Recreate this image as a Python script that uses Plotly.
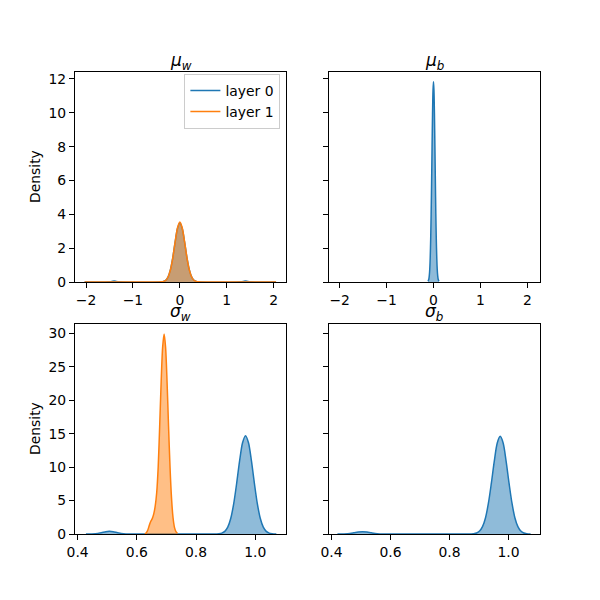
import plotly.graph_objects as go

# kde curves
mu_w_x0 = [-2.03, -1.6, -1.5, -1.45, -1.4, -1.35, -1.3, -1.2, -0.45, -0.4, -0.35, -0.3, -0.25, -0.2, -0.15, -0.1, -0.05,
           0.0, 0.05, 0.1, 0.15, 0.2, 0.25, 0.3, 0.35, 0.4, 0.45, 1.2, 1.3, 1.35, 1.4, 1.45, 1.5, 1.6, 2.05]
mu_w_y0 = [0.0, 0.0, 0.01, 0.03, 0.06, 0.03, 0.01, 0.0, 0.0, 0.01, 0.03, 0.1, 0.3, 0.73, 1.44, 2.36, 3.16,
           3.49, 3.16, 2.36, 1.44, 0.73, 0.3, 0.1, 0.03, 0.01, 0.0, 0.0, 0.01, 0.03, 0.06, 0.03, 0.01, 0.0, 0.0]
mu_w_x1 = [-2.03, -0.45, -0.4, -0.35, -0.3, -0.25, -0.2, -0.15, -0.1, -0.05, 0.0,
           0.05, 0.1, 0.15, 0.2, 0.25, 0.3, 0.35, 0.4, 0.45, 2.05]
mu_w_y1 = [0.0, 0.0, 0.01, 0.03, 0.1, 0.31, 0.74, 1.46, 2.4, 3.21, 3.55,
           3.21, 2.4, 1.46, 0.74, 0.31, 0.1, 0.03, 0.01, 0.0, 0.0]

mu_b_x0 = [-0.115, -0.1, -0.09, -0.08, -0.07, -0.06, -0.05, -0.04, -0.03, -0.02, -0.01, 0.0,
           0.01, 0.02, 0.03, 0.04, 0.05, 0.06, 0.07, 0.08, 0.09, 0.1, 0.115]
mu_b_y0 = [0.04, 0.16, 0.36, 0.74, 1.42, 2.49, 4.01, 5.92, 8.02, 9.95, 11.33, 11.83,
           11.33, 9.95, 8.02, 5.92, 4.01, 2.49, 1.42, 0.74, 0.36, 0.16, 0.04]

sig_w_x0 = [0.428, 0.46, 0.48, 0.495, 0.507, 0.52, 0.535, 0.555, 0.58, 0.62,
            0.86, 0.877, 0.887, 0.897, 0.907, 0.917, 0.927, 0.937, 0.947, 0.957, 0.967,
            0.977, 0.987, 0.997, 1.007, 1.017, 1.027, 1.037, 1.047, 1.057, 1.071]
sig_w_y0 = [0.0, 0.05, 0.2, 0.35, 0.4, 0.35, 0.2, 0.05, 0.01, 0.0,
            0.0, 0.04, 0.13, 0.39, 1.02, 2.31, 4.5, 7.55, 10.93, 13.65, 14.7,
            13.65, 10.93, 7.55, 4.5, 2.31, 1.02, 0.39, 0.13, 0.04, 0.0]
sig_w_x1 = [0.627, 0.632, 0.637, 0.642, 0.647, 0.652, 0.657, 0.662, 0.667, 0.672, 0.677, 0.682, 0.687, 0.692,
            0.697, 0.702, 0.707, 0.712, 0.717, 0.722, 0.727, 0.732, 0.737]
sig_w_y1 = [0.03, 0.2, 0.6, 1.3, 1.9, 2.3, 3.0, 4.2, 6.2, 10.0, 16.1, 22.7, 27.9, 29.9,
            27.9, 22.7, 16.1, 10.0, 5.4, 2.5, 1.0, 0.37, 0.1]

sig_b_x0 = [0.42, 0.455, 0.475, 0.49, 0.505, 0.52, 0.535, 0.555, 0.58, 0.62,
            0.86, 0.882, 0.892, 0.902, 0.912, 0.922, 0.932, 0.942, 0.952, 0.962, 0.972,
            0.982, 0.992, 1.002, 1.012, 1.022, 1.032, 1.042, 1.052, 1.062, 1.075]
sig_b_y0 = [0.0, 0.05, 0.18, 0.3, 0.35, 0.3, 0.18, 0.05, 0.01, 0.0,
            0.0, 0.05, 0.15, 0.45, 1.1, 2.4, 4.6, 7.6, 10.9, 13.6, 14.6,
            13.6, 10.9, 7.6, 4.6, 2.4, 1.1, 0.45, 0.15, 0.05, 0.0]

top_xticks = [-2, -1, 0, 1, 2]
bot_xticks = [0.4, 0.6, 0.8, 1.0]
top_yticks = [0, 2, 4, 6, 8, 10, 12]
bot_yticks = [0, 5, 10, 15, 20, 25, 30]
titles = ['<i>μ</i><sub><i>w</i></sub>', '<i>μ</i><sub><i>b</i></sub>',
          '<i>σ</i><sub><i>w</i></sub>', '<i>σ</i><sub><i>b</i></sub>']
layer_names = ['layer 0', 'layer 1']

C0 = '#1f77b4'
C1 = '#ff7f0e'
fills = {C0: 'rgba(31,119,180,0.5)', C1: 'rgba(255,127,14,0.5)'}
FONT = 'DejaVu Sans, sans-serif'

fig = go.Figure()


def kde(x, y, color, ax):
    fig.add_trace(go.Scatter(
        x=x, y=y, mode='lines', fill='tozeroy', fillcolor=fills[color],
        line=dict(color=color, width=1.5, shape='spline', smoothing=0.8),
        xaxis='x' + ax, yaxis='y' + ax, showlegend=False, hoverinfo='skip'
    ))


kde(mu_w_x0, mu_w_y0, C0, '')
kde(mu_w_x1, mu_w_y1, C1, '')
kde(mu_b_x0, mu_b_y0, C0, '2')
kde(sig_w_x0, sig_w_y0, C0, '3')
kde(sig_w_x1, sig_w_y1, C1, '3')
kde(sig_b_x0, sig_b_y0, C0, '4')

# legend shows plain lines, as in the original
for name, color in zip(layer_names, [C0, C1]):
    fig.add_trace(go.Scatter(x=[None], y=[None], mode='lines', name=name,
                             line=dict(color=color, width=1.5)))

axis_style = dict(showline=True, mirror=True, linecolor='black', linewidth=1.1,
                  ticks='outside', ticklen=5, tickwidth=1.1, tickcolor='black',
                  showgrid=False, zeroline=False, automargin=False,
                  tickfont=dict(family=FONT, size=13.9, color='black'))

dx = [[0.125, 0.4773], [0.5477, 0.9]]
dy_top = [0.53, 0.88]
dy_bot = [0.11, 0.46]

fig.update_layout(
    width=600, height=600, autosize=False,
    margin=dict(l=0, r=0, t=0, b=0),
    paper_bgcolor='white', plot_bgcolor='white',
    font=dict(family=FONT, color='black'),
    xaxis=dict(domain=dx[0], anchor='y', range=[-2.235, 2.27], tickvals=top_xticks, **axis_style),
    yaxis=dict(domain=dy_top, anchor='x', range=[0, 12.41], tickvals=top_yticks, **axis_style),
    xaxis2=dict(domain=dx[1], anchor='y2', range=[-2.235, 2.27], tickvals=top_xticks, **axis_style),
    yaxis2=dict(domain=dy_top, anchor='x2', range=[0, 12.41], tickvals=top_yticks,
                showticklabels=False, **axis_style),
    xaxis3=dict(domain=dx[0], anchor='y3', range=[0.391, 1.105], tickvals=bot_xticks,
                tickformat='.1f', **axis_style),
    yaxis3=dict(domain=dy_bot, anchor='x3', range=[0, 31.4], tickvals=bot_yticks, **axis_style),
    xaxis4=dict(domain=dx[1], anchor='y4', range=[0.39, 1.107], tickvals=bot_xticks,
                tickformat='.1f', **axis_style),
    yaxis4=dict(domain=dy_bot, anchor='x4', range=[0, 31.4], tickvals=bot_yticks,
                showticklabels=False, **axis_style),
    legend=dict(x=0.4773 - 6 / 600, y=0.88 - 2 / 600, xanchor='right', yanchor='top',
                bgcolor='rgba(255,255,255,0.8)', bordercolor='#cccccc', borderwidth=1,
                font=dict(family=FONT, size=13.9, color='black'), itemwidth=30,
                tracegroupgap=0),
)

centers_x = [sum(d) / 2 for d in dx]
title_pos = [(centers_x[0], 0.898), (centers_x[1], 0.898), (centers_x[0], 0.48), (centers_x[1], 0.48)]
for (tx, ty), t in zip(title_pos, titles):
    fig.add_annotation(text=t, x=tx, y=ty, xref='paper', yref='paper', xanchor='center', yanchor='middle',
                       showarrow=False, font=dict(family=FONT, size=17, color='black'))

for ty in [sum(dy_top) / 2, sum(dy_bot) / 2]:
    fig.add_annotation(text='Density', x=35 / 600, y=ty, xref='paper', yref='paper', textangle=-90,
                       xanchor='center', yanchor='middle', showarrow=False,
                       font=dict(family=FONT, size=13.9, color='black'))

fig.write_html("out.html", config={'displayModeBar': False},
               post_script="document.body.style.margin='0px';")
